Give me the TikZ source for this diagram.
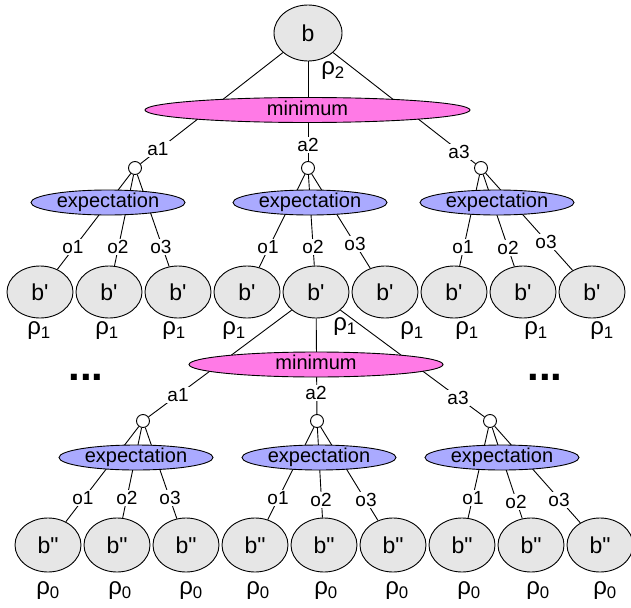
\documentclass[tikz,border=0pt]{standalone}
\usepackage{fontspec}
\setmainfont{Liberation Sans}
\usetikzlibrary{shapes.geometric}
\pgfdeclarelayer{bg}
\pgfsetlayers{bg,main}
\definecolor{bgray}{HTML}{E6E6E6}
\definecolor{minpink}{HTML}{FF7AE6}
\definecolor{explav}{HTML}{AAAAFF}
\tikzset{
  bnode/.style={ellipse, draw, fill=bgray, line width=0.9pt, minimum width=66pt, minimum height=52pt, inner sep=0pt, font=\fontsize{23}{27}\selectfont},
  chance/.style={circle, draw, fill=white, line width=0.9pt, minimum size=13pt, inner sep=0pt},
  minnode/.style={ellipse, draw, fill=minpink, line width=0.9pt, minimum height=25pt, inner sep=0pt, text height=10.4pt, text depth=0pt, font=\fontsize{20}{24}\selectfont},
  expnode/.style={ellipse, draw, fill=explav, line width=0.9pt, minimum width=154pt, minimum height=25pt, inner sep=0pt, text height=10.4pt, text depth=0pt, font=\fontsize{20}{24}\selectfont},
  lbl/.style={fill=white, inner sep=1pt, font=\fontsize{19}{22}\selectfont},
  rho/.style={inner sep=0pt, font=\fontsize{24}{28}\selectfont},
  edge/.style={line width=0.9pt},
  dots/.style={inner sep=0pt, font=\fontsize{42}{44}\bfseries\selectfont}
}
\newcommand{\bp}{b\textquotesingle}
\newcommand{\bpp}{b\textquotedbl}
\begin{document}
\begin{tikzpicture}[x=1pt,y=-1pt]
\useasboundingbox (0,0) rectangle (631,607);
% ---------- nodes ----------
\node[bnode, minimum width=68pt, minimum height=56pt] (root) at (308,33) {b};
\node[rho] (r2) at (333,71) {ρ\textsubscript{2}};
\node[minnode, minimum width=325pt] (min1) at (307.5,110) {minimum};
\node[chance] (c1) at (135,168) {};
\node[chance] (c2) at (308,168) {};
\node[chance] (c3) at (481,168) {};
\node[expnode] (e1) at (108,202.5) {expectation};
\node[expnode] (e2) at (310,202.5) {expectation};
\node[expnode] (e3) at (497,202.5) {expectation};
\foreach \i/\x in {1/40,2/109,3/178,4/247,5/316,6/385,7/454,8/523,9/592}
  \node[bnode] (bp\i) at (\x,292) {\bp};
\foreach \i/\x in {1/39,2/107,3/174,4/234,6/412,7/467,8/536,9/602}
  \node[rho] (rp\i) at (\x,331) {ρ\textsubscript{1}};
\node[rho] (rp5) at (345,327) {ρ\textsubscript{1}};
\node[minnode, minimum width=254pt] (min2) at (316,364.5) {minimum};
\node[chance] (d1) at (143,421) {};
\node[chance] (d2) at (317,421) {};
\node[chance] (d3) at (490,421) {};
\node[expnode] (f1) at (136,457.5) {expectation};
\node[expnode] (f2) at (319,457.5) {expectation};
\node[expnode] (f3) at (502,457.5) {expectation};
\foreach \i/\x in {1/48,2/117,3/186,4/255,5/324,6/393,7/462,8/531,9/600}
  \node[bnode, minimum height=54pt] (bb\i) at (\x,545) {\bpp};
\foreach \i/\x in {1/48,2/120,3/191,4/258,5/326,6/397,7/469,8/538,9/605}
  \node[rho] (rb\i) at (\x,591) {ρ\textsubscript{0}};
\node[dots] (dl) at (86,377) {...};
\node[dots] (dr) at (545,377) {...};
% ---------- connectors ----------
\begin{pgfonlayer}{bg}
\foreach \c in {c1,c2,c3} \draw[edge] (root) -- (\c);
\foreach \c in {d1,d2,d3} \draw[edge] (bp5) -- (\c);
\foreach \b in {1,2,3} \draw[edge] (c1) -- (bp\b);
\foreach \b in {4,5,6} \draw[edge] (c2) -- (bp\b);
\foreach \b in {7,8,9} \draw[edge] (c3) -- (bp\b);
\foreach \b in {1,2,3} \draw[edge] (d1) -- (bb\b);
\foreach \b in {4,5,6} \draw[edge] (d2) -- (bb\b);
\foreach \b in {7,8,9} \draw[edge] (d3) -- (bb\b);
\end{pgfonlayer}
% ---------- edge labels ----------
\node[lbl] (la1) at (158,149) {a1};
\node[lbl] (la2) at (308,145) {a2};
\node[lbl] (la3) at (459,152) {a3};
\node[lbl] (lo11) at (73,247) {o1};
\node[lbl] (lo12) at (118,247) {o2};
\node[lbl] (lo13) at (161,247) {o3};
\node[lbl] (lo21) at (268,247) {o1};
\node[lbl] (lo22) at (313,247) {o2};
\node[lbl] (lo23) at (355,244) {o3};
\node[lbl] (lo31) at (463,247) {o1};
\node[lbl] (lo32) at (508,248) {o2};
\node[lbl] (lo33) at (546,242) {o3};
\node[lbl] (lb1) at (178,395) {a1};
\node[lbl] (lb2) at (316,393) {a2};
\node[lbl] (lb3) at (458,398) {a3};
\node[lbl] (lp11) at (83,498) {o1};
\node[lbl] (lp12) at (127,498) {o2};
\node[lbl] (lp13) at (170,498) {o3};
\node[lbl] (lp21) at (278,498) {o1};
\node[lbl] (lp22) at (321,500) {o2};
\node[lbl] (lp23) at (366,500) {o3};
\node[lbl] (lp31) at (473,498) {o1};
\node[lbl] (lp32) at (516,502) {o2};
\node[lbl] (lp33) at (559,500) {o3};
\end{tikzpicture}
\end{document}
